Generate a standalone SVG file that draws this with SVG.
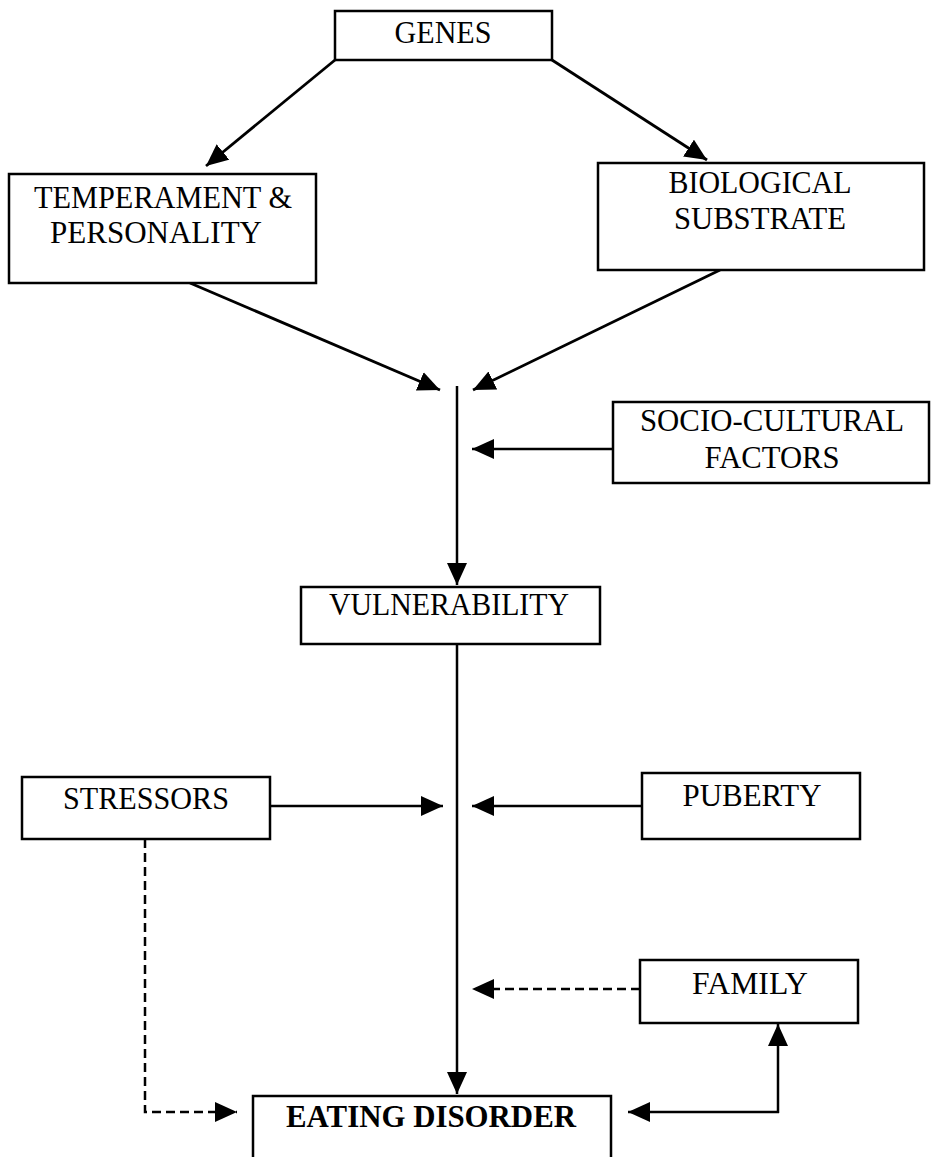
<svg xmlns="http://www.w3.org/2000/svg" width="931" height="1157" viewBox="0 0 931 1157">
<style>
.box{fill:#fff;stroke:#000;stroke-width:2.5}
.t{font-family:"Liberation Serif","Times New Roman",serif;font-size:32px;fill:#000;text-anchor:middle}
.b{font-weight:bold}
.c{fill:none;stroke:#000;stroke-width:2.5}
.g{stroke-width:2.8}
.d{stroke-dasharray:9 5}
</style>
<defs>
<marker id="ah" markerUnits="userSpaceOnUse" markerWidth="26" markerHeight="22" refX="22" refY="10" orient="auto">
<path d="M0,0 L22,10 L0,20 z" fill="#000"/>
</marker>
</defs>
<rect width="931" height="1157" fill="#fff"/>
<g id="connectors">
<line class="c g" x1="335" y1="60" x2="206" y2="166" marker-end="url(#ah)"/>
<line class="c g" x1="552" y1="60" x2="707" y2="160" marker-end="url(#ah)"/>
<line class="c g" x1="190" y1="283" x2="440" y2="390" marker-end="url(#ah)"/>
<line class="c g" x1="720" y1="270" x2="473" y2="390" marker-end="url(#ah)"/>
<line class="c" x1="457" y1="386" x2="457" y2="585" marker-end="url(#ah)"/>
<line class="c" x1="613" y1="449" x2="472" y2="449" marker-end="url(#ah)"/>
<line class="c" x1="457" y1="644" x2="457" y2="1094" marker-end="url(#ah)"/>
<line class="c" x1="270" y1="806" x2="443" y2="806" marker-end="url(#ah)"/>
<line class="c" x1="642" y1="806" x2="472" y2="806" marker-end="url(#ah)"/>
<line class="c d" x1="640" y1="989" x2="472" y2="989" marker-end="url(#ah)"/>
<polyline class="c d" points="145,839 145,1112 237,1112" marker-end="url(#ah)"/>
<line class="c" x1="779" y1="1112" x2="628" y2="1112" marker-end="url(#ah)"/>
<line class="c" x1="778" y1="1113" x2="778" y2="1024" marker-end="url(#ah)"/>
</g>
<g id="genes"><rect class="box" x="335" y="11" width="217" height="49"/><text class="t" x="443" y="43" textLength="97" lengthAdjust="spacingAndGlyphs">GENES</text></g>
<g id="temperament"><rect class="box" x="9" y="174" width="307" height="109"/><text class="t" x="163" y="208" textLength="258" lengthAdjust="spacingAndGlyphs">TEMPERAMENT &amp;</text><text class="t" x="156" y="243" textLength="212" lengthAdjust="spacingAndGlyphs">PERSONALITY</text></g>
<g id="biological"><rect class="box" x="598" y="163" width="326" height="107"/><text class="t" x="760" y="193" textLength="183" lengthAdjust="spacingAndGlyphs">BIOLOGICAL</text><text class="t" x="760" y="229" textLength="172" lengthAdjust="spacingAndGlyphs">SUBSTRATE</text></g>
<g id="sociocultural"><rect class="box" x="613" y="402" width="316" height="81"/><text class="t" x="772" y="431" textLength="264" lengthAdjust="spacingAndGlyphs">SOCIO-CULTURAL</text><text class="t" x="772" y="468" textLength="135" lengthAdjust="spacingAndGlyphs">FACTORS</text></g>
<g id="vulnerability"><rect class="box" x="301" y="587" width="299" height="57"/><text class="t" x="449" y="615" textLength="240" lengthAdjust="spacingAndGlyphs">VULNERABILITY</text></g>
<g id="stressors"><rect class="box" x="22" y="777" width="248" height="62"/><text class="t" x="146" y="809" textLength="166" lengthAdjust="spacingAndGlyphs">STRESSORS</text></g>
<g id="puberty"><rect class="box" x="642" y="773" width="218" height="66"/><text class="t" x="752" y="806" textLength="139" lengthAdjust="spacingAndGlyphs">PUBERTY</text></g>
<g id="family"><rect class="box" x="640" y="960" width="218" height="63"/><text class="t" x="750" y="994" textLength="116" lengthAdjust="spacingAndGlyphs">FAMILY</text></g>
<g id="eating-disorder"><rect class="box" x="253" y="1096" width="358" height="80"/><text class="t b" x="431" y="1127" textLength="290" lengthAdjust="spacingAndGlyphs">EATING DISORDER</text></g>
</svg>
